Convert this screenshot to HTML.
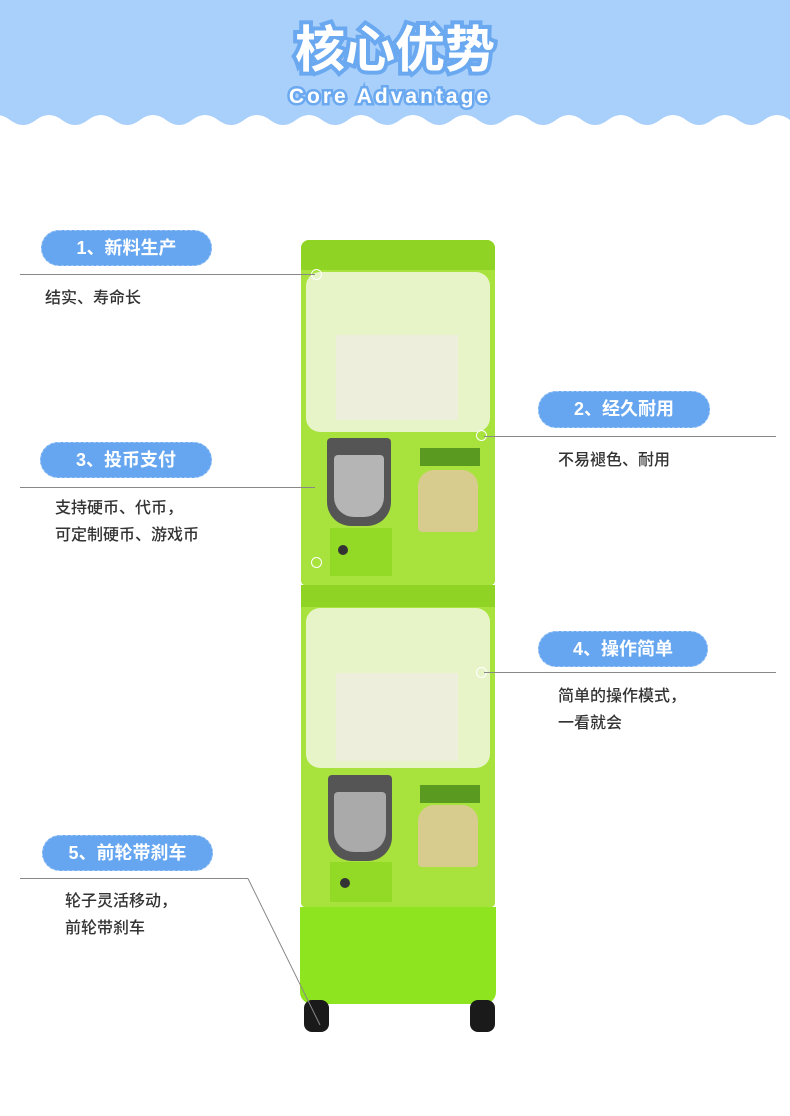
<!DOCTYPE html>
<html><head><meta charset="utf-8"><style>
body{margin:0;width:790px;height:1116px;background:#fff;position:relative;overflow:hidden;font-family:"Liberation Sans","Noto Sans CJK SC",sans-serif}
.a{position:absolute}
.pill{position:absolute;background:#66a6f0;color:#fff;font-weight:bold;font-size:18px;border-radius:18px;text-align:center;border:1px dashed #9cc6f6;box-sizing:border-box}
.ln{position:absolute;height:1px;background:#888}
.tx{position:absolute;font-size:16px;color:#333;line-height:27px;font-weight:500}
.dot{position:absolute;width:9px;height:9px;border:1px solid #fff;border-radius:50%}
</style></head><body>
<svg class="a" style="left:0;top:0" width="790" height="130">
<path fill="#a9cffb" d="M0 0 H790 V120 q-13 -10 -26 0 q-13 10 -26 0 q-13 -10 -26 0 q-13 10 -26 0 q-13 -10 -26 0 q-13 10 -26 0 q-13 -10 -26 0 q-13 10 -26 0 q-13 -10 -26 0 q-13 10 -26 0 q-13 -10 -26 0 q-13 10 -26 0 q-13 -10 -26 0 q-13 10 -26 0 q-13 -10 -26 0 q-13 10 -26 0 q-13 -10 -26 0 q-13 10 -26 0 q-13 -10 -26 0 q-13 10 -26 0 q-13 -10 -26 0 q-13 10 -26 0 q-13 -10 -26 0 q-13 10 -26 0 q-13 -10 -26 0 q-13 10 -26 0 q-13 -10 -26 0 q-13 10 -26 0 q-13 -10 -26 0 q-13 10 -26 0 q-13 -10 -26 0 q-13 10 -26 0 V0 Z"/>
<text x="395" y="67" text-anchor="middle" font-size="50" font-weight="bold" fill="#fff" stroke="#6aa8f0" stroke-width="8" paint-order="stroke" font-family="Noto Sans CJK SC,sans-serif">核心优势</text>
<text x="390" y="103" text-anchor="middle" font-size="21" font-weight="bold" letter-spacing="3" fill="#fff" stroke="#6aa8f0" stroke-width="5" paint-order="stroke" font-family="Liberation Sans,sans-serif">Core Advantage</text>
</svg>

<!-- machine -->
<div class="a" style="left:301px;top:240px;width:194px;height:345px;background:#a8e23c;border-radius:8px 8px 4px 4px"></div>
<div class="a" style="left:301px;top:240px;width:194px;height:30px;background:#8fd424;border-radius:8px 8px 0 0"></div>
<div class="a" style="left:306px;top:272px;width:184px;height:160px;background:#e6f4c8;border-radius:14px"></div>
<div class="a" style="left:336px;top:335px;width:122px;height:85px;background:#eeeedc"></div>
<div class="a" style="left:327px;top:438px;width:64px;height:88px;background:#555;border-radius:4px 4px 24px 24px"></div>
<div class="a" style="left:334px;top:455px;width:50px;height:62px;background:#b5b5b5;border-radius:4px 4px 20px 20px"></div>
<div class="a" style="left:330px;top:528px;width:62px;height:48px;background:#92da26"></div>
<div class="a" style="left:338px;top:545px;width:10px;height:10px;background:#333;border-radius:50%"></div>
<div class="a" style="left:420px;top:448px;width:60px;height:18px;background:#5a9a20"></div>
<div class="a" style="left:418px;top:470px;width:60px;height:62px;background:#d7cc8e;border-radius:16px 16px 4px 4px"></div>

<div class="a" style="left:301px;top:585px;width:194px;height:322px;background:#a8e23c;border-radius:4px"></div>
<div class="a" style="left:301px;top:585px;width:194px;height:22px;background:#8fd424"></div>
<div class="a" style="left:306px;top:608px;width:184px;height:160px;background:#e6f4c8;border-radius:14px"></div>
<div class="a" style="left:336px;top:673px;width:122px;height:88px;background:#eeeedc"></div>
<div class="a" style="left:328px;top:775px;width:64px;height:86px;background:#555;border-radius:4px 4px 24px 24px"></div>
<div class="a" style="left:334px;top:792px;width:52px;height:60px;background:#aaa;border-radius:4px 4px 20px 20px"></div>
<div class="a" style="left:330px;top:862px;width:62px;height:40px;background:#92da26"></div>
<div class="a" style="left:340px;top:878px;width:10px;height:10px;background:#333;border-radius:50%"></div>
<div class="a" style="left:420px;top:785px;width:60px;height:18px;background:#5a9a20"></div>
<div class="a" style="left:418px;top:805px;width:60px;height:62px;background:#d7cc8e;border-radius:16px 16px 4px 4px"></div>

<div class="a" style="left:300px;top:907px;width:196px;height:97px;background:#8ee41e;border-radius:0 0 12px 12px"></div>
<div class="a" style="left:304px;top:1000px;width:25px;height:32px;background:#1a1a1a;border-radius:8px"></div>
<div class="a" style="left:470px;top:1000px;width:25px;height:32px;background:#1a1a1a;border-radius:8px"></div>

<div class="dot" style="left:311px;top:269px"></div>
<div class="dot" style="left:476px;top:430px"></div>
<div class="dot" style="left:311px;top:557px"></div>
<div class="dot" style="left:476px;top:667px"></div>

<!-- labels -->
<div class="pill" style="left:41px;top:230px;width:171px;height:36px;line-height:34px">1、新料生产</div>
<div class="ln" style="left:20px;top:274px;width:295px"></div>
<div class="tx" style="left:45px;top:285px">结实、寿命长</div>

<div class="pill" style="left:538px;top:391px;width:172px;height:37px;line-height:35px">2、经久耐用</div>
<div class="ln" style="left:484px;top:436px;width:292px"></div>
<div class="tx" style="left:558px;top:447px">不易褪色、耐用</div>

<div class="pill" style="left:40px;top:442px;width:172px;height:36px;line-height:34px">3、投币支付</div>
<div class="ln" style="left:20px;top:487px;width:295px"></div>
<div class="tx" style="left:55px;top:495px">支持硬币、代币，<br>可定制硬币、游戏币</div>

<div class="pill" style="left:538px;top:631px;width:170px;height:36px;line-height:34px">4、操作简单</div>
<div class="ln" style="left:484px;top:672px;width:292px"></div>
<div class="tx" style="left:558px;top:683px">简单的操作模式，<br>一看就会</div>

<div class="pill" style="left:42px;top:835px;width:171px;height:36px;line-height:34px">5、前轮带刹车</div>
<div class="ln" style="left:20px;top:878px;width:228px"></div>
<svg class="a" style="left:0;top:0" width="790" height="1116"><line x1="248" y1="878.5" x2="320" y2="1025" stroke="#888" stroke-width="1"/></svg>
<div class="tx" style="left:65px;top:888px">轮子灵活移动，<br>前轮带刹车</div>
</body></html>
